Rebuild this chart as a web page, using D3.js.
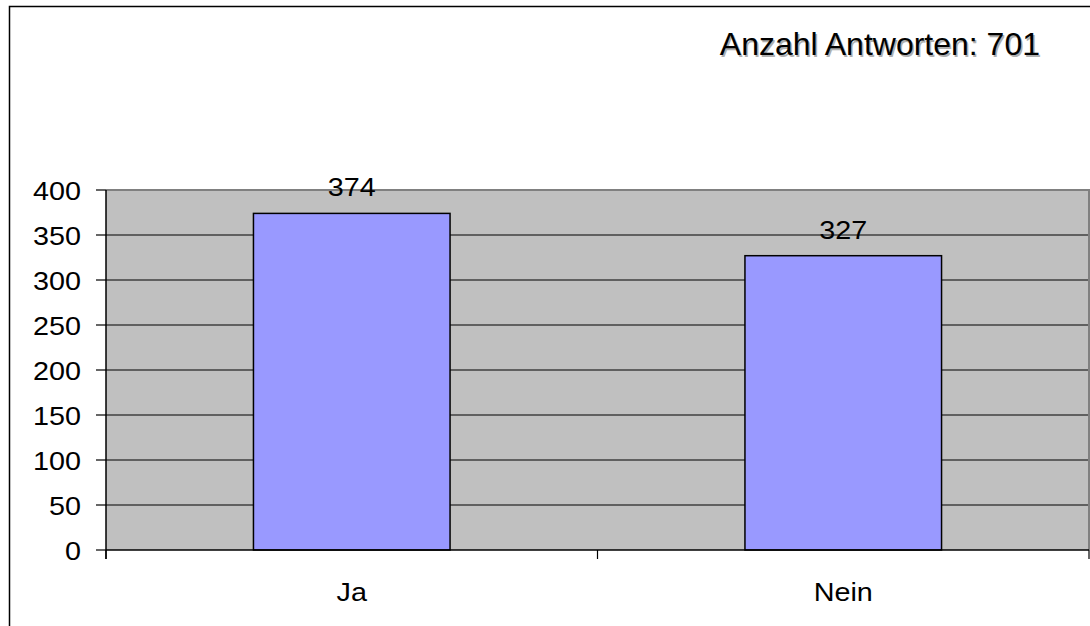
<!DOCTYPE html>
<html>
<head>
<meta charset="utf-8">
<script src="https://cdn.jsdelivr.net/npm/d3@7"></script>
<style>
  body { margin: 0; background: #fff; }
  svg { display: block; font-family: Arial, "Liberation Sans", sans-serif; }
</style>
</head>
<body>
<svg id="chart" width="1090" height="626"></svg>
<script>
// data
var categories = ["Ja", "Nein"];
var values = [374, 327];
var yTicks = [0, 50, 100, 150, 200, 250, 300, 350, 400];
var titleText = "Anzahl Antworten: 701";

var svg = d3.select("#chart");
// plot box (note: "top" is taken by window, so pX names)
var pLeft = 106, pRight = 1089, pTop = 190, pBottom = 550;
var stretch = 1.15; // the old chart was stretched sideways

var x = d3.scaleBand().domain(categories).range([pLeft, pRight]).paddingInner(0.6).paddingOuter(0.3);
var xc = d3.scaleBand().domain(categories).range([pLeft, pRight]); // whole category slots
var y = d3.scaleLinear().domain([0, 400]).range([pBottom, pTop]);

// outer frame (right/bottom edges run off the picture)
svg.append("rect").attr("x", 9.5).attr("y", 6.5).attr("width", 1200).attr("height", 700)
  .attr("fill", "#fff").attr("stroke", "#000").attr("stroke-width", 1.5);

// title with its soft shadow
function title(dx, dy, col) {
  svg.append("text").attr("x", 1040 + dx).attr("y", 55 + dy).attr("text-anchor", "end")
    .attr("font-size", 32).attr("fill", col).text(titleText);
}
title(1.5, 1.5, "#b0b0b0");
title(0, 0, "#000");

// plot area
svg.append("rect").attr("x", pLeft).attr("y", pTop).attr("width", pRight - pLeft).attr("height", pBottom - pTop)
  .attr("fill", "#c0c0c0");

// grid lines
svg.append("g").selectAll("line").data(yTicks.filter(function(d){ return d > 0 && d < 400; }))
  .join("line")
  .attr("x1", pLeft).attr("x2", pRight)
  .attr("y1", function(d){ return y(d); }).attr("y2", function(d){ return y(d); })
  .attr("stroke", "#000").attr("stroke-width", 1);

// plot border top/right in gray
svg.append("path").attr("d", "M" + pLeft + "," + pTop + "H" + pRight + "V" + pBottom)
  .attr("fill", "none").attr("stroke", "#808080").attr("stroke-width", 2);

// bars
svg.append("g").selectAll("rect").data(values).join("rect")
  .attr("x", function(d, i){ return x(categories[i]); })
  .attr("y", function(d){ return y(d); })
  .attr("width", x.bandwidth())
  .attr("height", function(d){ return y(0) - y(d); })
  .attr("fill", "#9999ff").attr("stroke", "#000").attr("stroke-width", 1.5);

// value labels
svg.append("g").selectAll("text").data(values).join("text")
  .attr("transform", function(d, i){
    return "translate(" + (x(categories[i]) + x.bandwidth() / 2) + "," + (y(d) - 17) + ") scale(" + stretch + ",1)";
  })
  .attr("text-anchor", "middle").attr("font-size", 25).attr("fill", "#000")
  .text(function(d){ return d; });

// y axis
var yAxis = svg.append("g");
yAxis.append("line").attr("x1", pLeft).attr("x2", pLeft).attr("y1", pTop).attr("y2", pBottom + 9)
  .attr("stroke", "#000").attr("stroke-width", 1.5);
yAxis.selectAll("line.tick").data(yTicks).join("line").attr("class", "tick")
  .attr("x1", pLeft - 10).attr("x2", pLeft)
  .attr("y1", function(d){ return y(d); }).attr("y2", function(d){ return y(d); })
  .attr("stroke", "#000").attr("stroke-width", 1.2);
yAxis.selectAll("text").data(yTicks).join("text")
  .attr("transform", function(d){ return "translate(81," + (y(d) + 9.5) + ") scale(" + stretch + ",1)"; })
  .attr("text-anchor", "end").attr("font-size", 25).attr("fill", "#000")
  .text(function(d){ return d; });

// x axis
var xAxis = svg.append("g");
xAxis.append("line").attr("x1", pLeft).attr("x2", pRight).attr("y1", pBottom).attr("y2", pBottom)
  .attr("stroke", "#000").attr("stroke-width", 1.5);
var bounds = [pLeft].concat(categories.map(function(c){ return xc(c) + xc.bandwidth(); }));
xAxis.selectAll("line.tick").data(bounds).join("line").attr("class", "tick")
  .attr("x1", function(d){ return d; }).attr("x2", function(d){ return d; })
  .attr("y1", pBottom).attr("y2", pBottom + 9)
  .attr("stroke", "#000").attr("stroke-width", 1.2);
xAxis.selectAll("text").data(categories).join("text")
  .attr("transform", function(d){ return "translate(" + (xc(d) + xc.bandwidth() / 2) + ",601) scale(" + stretch + ",1)"; })
  .attr("text-anchor", "middle").attr("font-size", 25).attr("fill", "#000")
  .text(function(d){ return d; });
</script>
</body>
</html>
